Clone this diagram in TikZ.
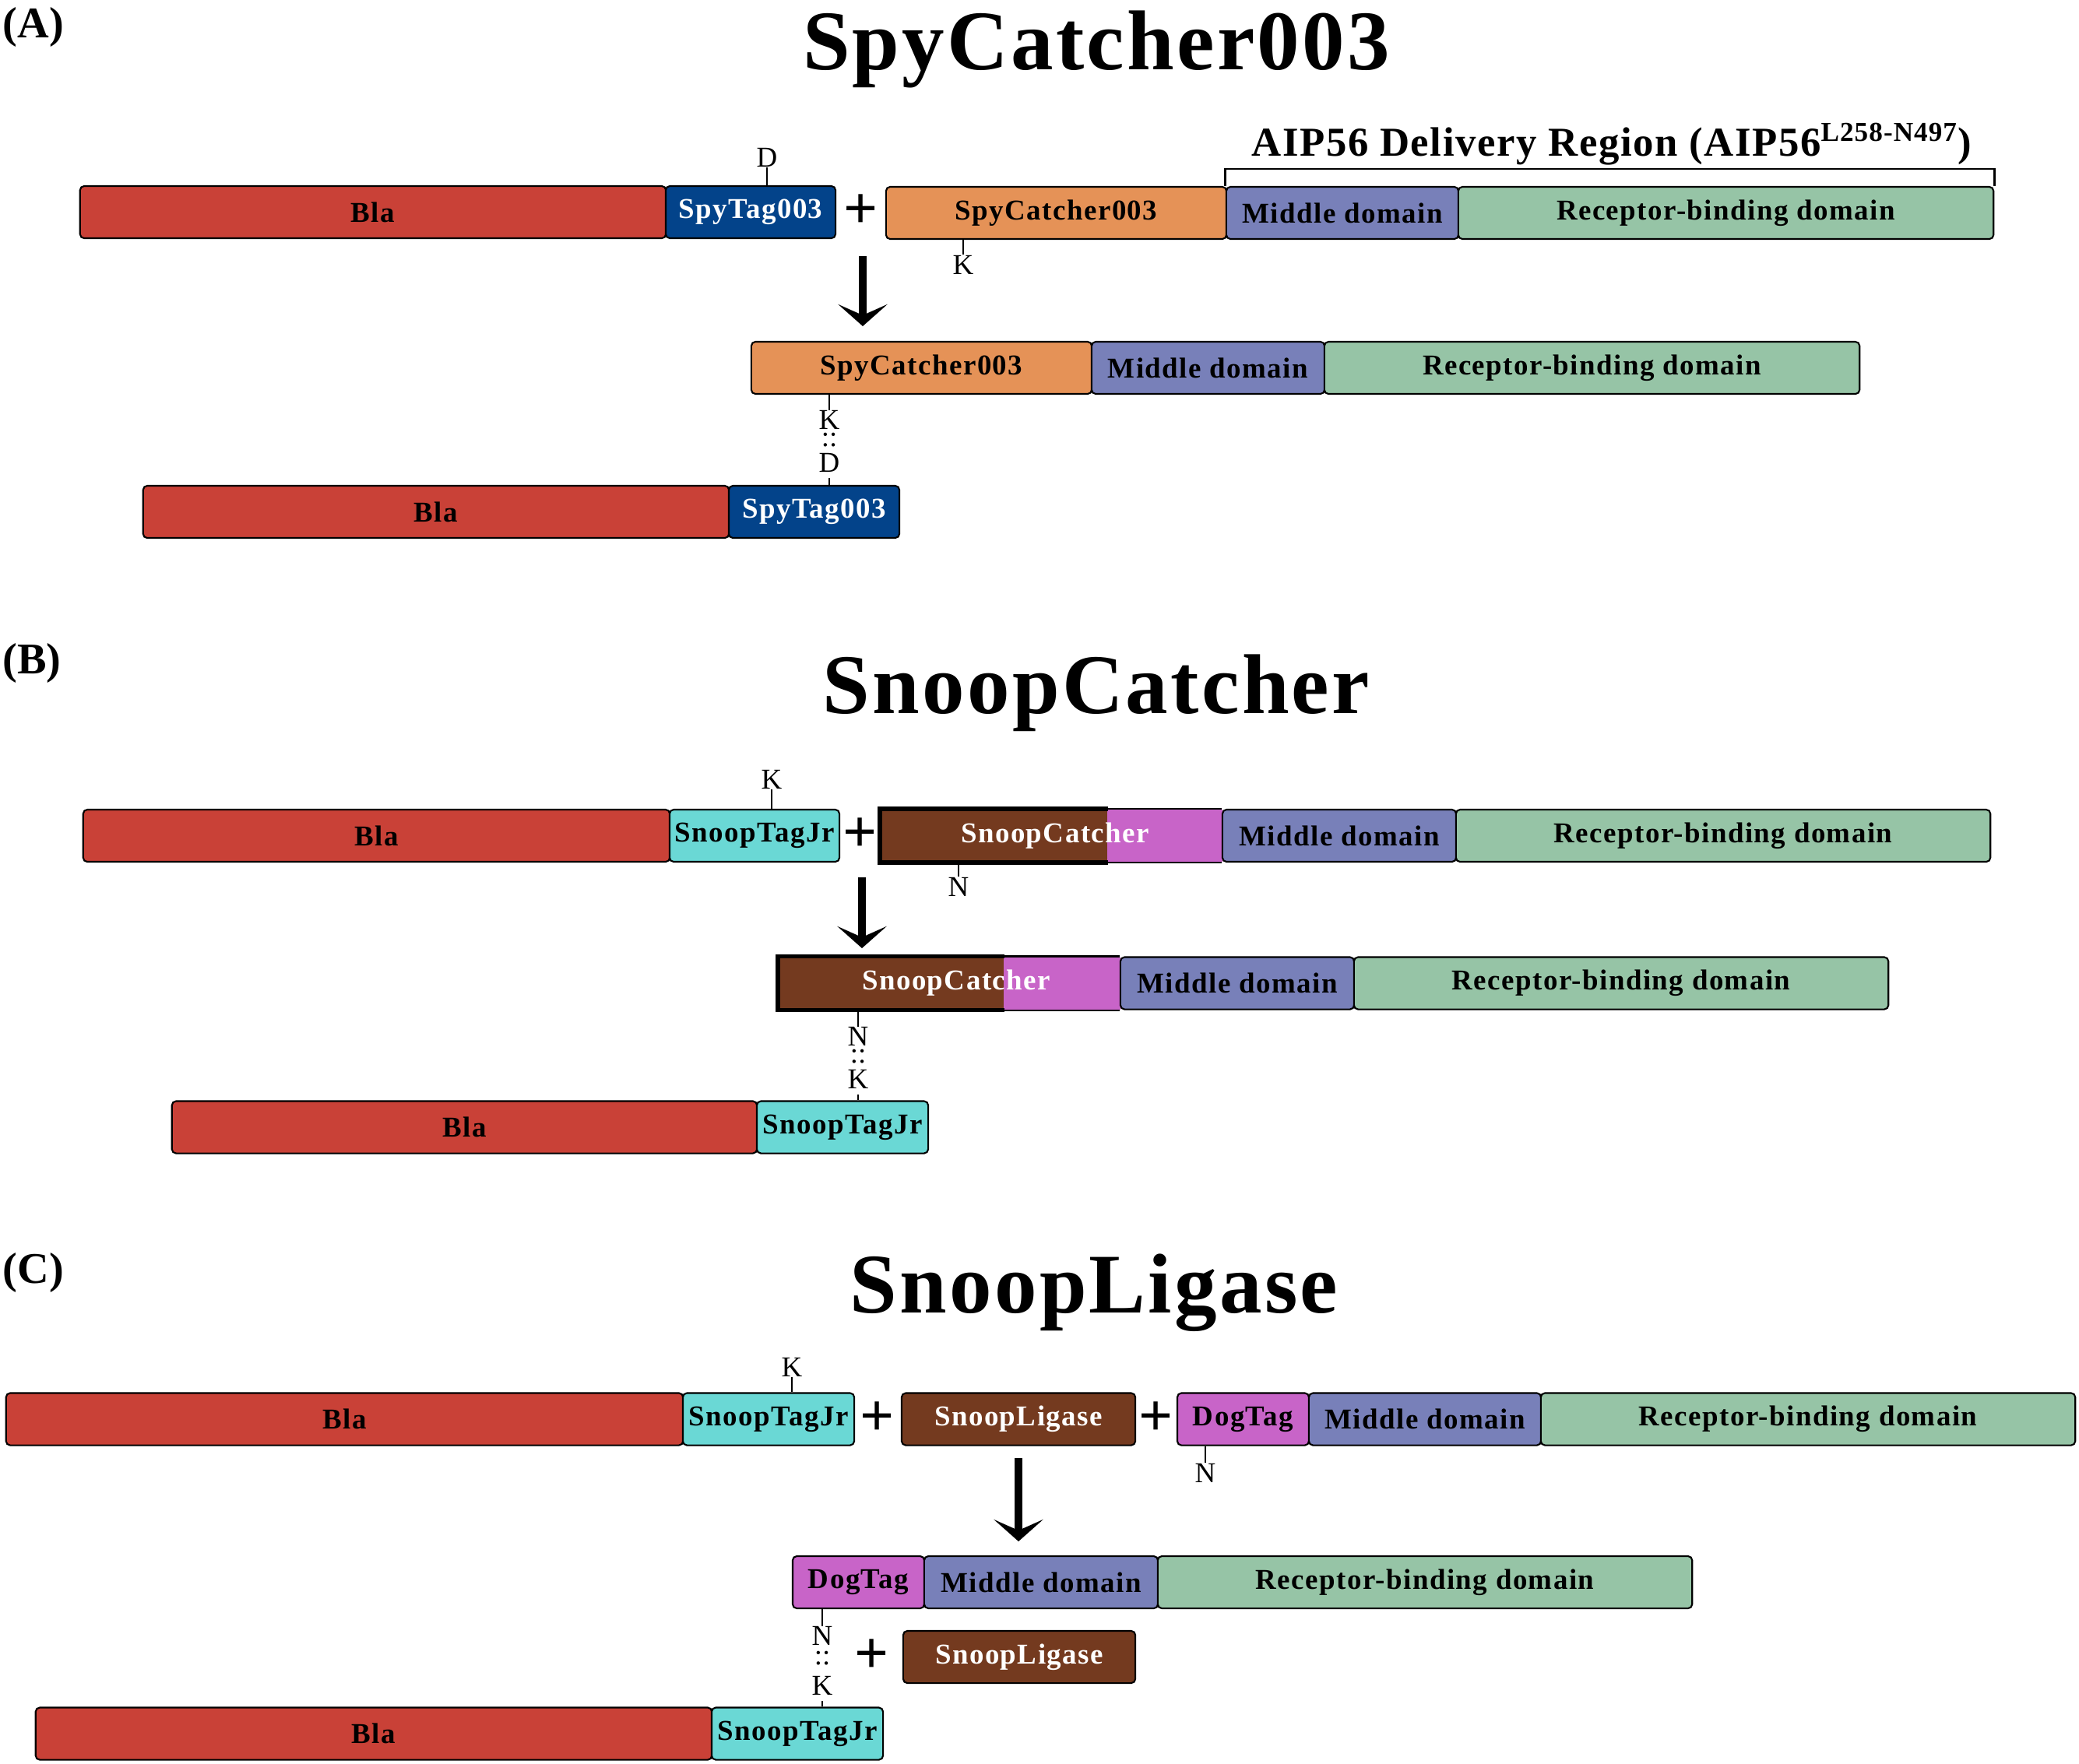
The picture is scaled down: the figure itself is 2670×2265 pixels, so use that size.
\documentclass[tikz,border=0pt]{standalone}
\usepackage{fontspec}
\setmainfont{Liberation Serif}
\usepackage{xcolor}
\usetikzlibrary{arrows.meta}

\definecolor{BlaRed}{HTML}{C94137}
\definecolor{SpyBlue}{HTML}{03438A}
\definecolor{CatcherOrange}{HTML}{E59257}
\definecolor{MiddleBlue}{HTML}{7880B9}
\definecolor{ReceptorGreen}{HTML}{96C4A6}
\definecolor{TagCyan}{HTML}{6AD8D5}
\definecolor{SnoopBrown}{HTML}{743A1F}
\definecolor{DogPink}{HTML}{C864C8}

\begin{document}
\begin{tikzpicture}[x=0.01cm, y=-0.01cm,
    seg/.style={draw, line width=0.6pt, rounded corners=1.5pt, minimum height=0.67cm, inner sep=0pt, font=\fontsize{10.5}{12}\selectfont\bfseries\addfontfeature{LetterSpace=4}},
    residue/.style={inner sep=0pt, font=\fontsize{10.5}{12}\selectfont},
    linker/.style={anchor=north, inner sep=0pt, align=center, font=\fontsize{10.5}{6}\selectfont},
    plus/.style={inner sep=0pt, font=\fontsize{22}{22}\selectfont\bfseries},
    heading/.style={anchor=base, inner sep=0pt, font=\fontsize{31}{33}\selectfont\bfseries\addfontfeature{LetterSpace=3}},
    panel/.style={anchor=base west, inner sep=0pt, font=\fontsize{16}{17}\selectfont\bfseries},
    region/.style={inner sep=0pt, font=\fontsize{15}{16}\selectfont\bfseries\addfontfeature{LetterSpace=3}},
    tick/.style={line width=0.6pt},
    bracket/.style={line width=0.8pt},
    react/.style={line width=3pt, -{Stealth[length=8pt, width=18pt, inset=4pt]}},
    catcher/.style={line width=1.6pt}]
  \useasboundingbox (0,0) rectangle (2670,2265);

  % ---------------- (A) SpyCatcher003
  \node[panel] (lab-a) at (3,48) {(A)};
  \node[heading] (title-a) at (1408,89) {SpyCatcher003};

  \node[seg, fill=BlaRed, minimum width=7.52cm] (bla-a1) at (479,272.5) {Bla};
  \node[seg, fill=SpyBlue, text=white, minimum width=2.18cm] (spytag-a1) at (964,272.5) {SpyTag003};
  \node[plus] (plus-a1) at (1106,272) {+};
  \node[seg, fill=CatcherOrange, minimum width=4.37cm] (spycatcher-a1) at (1356.5,273.5) {SpyCatcher003};
  \node[seg, fill=MiddleBlue, minimum width=2.98cm] (middle-a1) at (1724,273.5) {Middle domain};
  \node[seg, fill=ReceptorGreen, minimum width=6.87cm] (rbd-a1) at (2216.5,273.5) {Receptor-binding domain};

  \node[residue] (d-a1) at (985,202) {D};
  \draw[tick] (d-a1.south) -- (d-a1.south |- spytag-a1.north);
  \node[residue] (k-a1) at (1237,340) {K};
  \draw[tick] (spycatcher-a1.south -| k-a1) -- (k-a1.north);

  \coordinate (bracket-a) at (1578,217);
  \draw[bracket] (middle-a1.north west) -- (middle-a1.north west |- bracket-a) -| (rbd-a1.north east);
  \node[region] (aip56) at (2070,185) {AIP56 Delivery Region (AIP56\textsuperscript{\fontsize{10}{10}\selectfont L258-N497})};

  \coordinate (arrow-a-start) at (1108,329);
  \coordinate (arrow-a-end) at (1108,419);
  \draw[react] (arrow-a-start) -- (arrow-a-end);

  \node[seg, fill=CatcherOrange, minimum width=4.37cm] (spycatcher-a2) at (1183.5,472.5) {SpyCatcher003};
  \node[seg, fill=MiddleBlue, minimum width=2.99cm] (middle-a2) at (1551.5,472.5) {Middle domain};
  \node[seg, fill=ReceptorGreen, minimum width=6.87cm] (rbd-a2) at (2044.5,472.5) {Receptor-binding domain};

  \node[linker] (bond-a2) at (1065,527) {K\\::\\[1.5pt]D};
  \draw[tick] (spycatcher-a2.south -| bond-a2) -- (bond-a2.north);

  \node[seg, fill=BlaRed, minimum width=7.52cm] (bla-a3) at (560,657.5) {Bla};
  \node[seg, fill=SpyBlue, text=white, minimum width=2.19cm] (spytag-a3) at (1045.5,657.5) {SpyTag003};
  \draw[tick] ([yshift=-2pt]bond-a2.south) -- (bond-a2.south |- spytag-a3.north);

  % ---------------- (B) SnoopCatcher
  \node[panel] (lab-b) at (3,865) {(B)};
  \node[heading] (title-b) at (1408,916) {SnoopCatcher};

  \node[seg, fill=BlaRed, minimum width=7.53cm] (bla-b1) at (483.5,1073.5) {Bla};
  \node[seg, fill=TagCyan, minimum width=2.18cm] (snooptag-b1) at (969,1073.5) {SnoopTagJr};
  \node[residue] (k-b1) at (991,1001) {K};
  \draw[tick] (k-b1.south) -- (k-b1.south |- snooptag-b1.north);
  \node[plus] (plus-b1) at (1105,1073) {+};

  \node[seg, draw=none, rounded corners=0pt, fill=DogPink, minimum width=1.48cm] (pink-b1) at (1496,1073.5) {};
  \node[seg, draw=none, rounded corners=0pt, fill=SnoopBrown, minimum width=2.91cm] (catcher-b1) at (1276.5,1073.5) {};
  \draw[catcher] (catcher-b1.north east) -- (catcher-b1.north west) -- (catcher-b1.south west) -- (catcher-b1.south east);
  \node[seg, draw=none, fill=none, text=white] (snoopcatcher-b1) at (1355,1073.5) {SnoopCatcher};
  \node[seg, fill=MiddleBlue, minimum width=3.00cm] (middle-b1) at (1720,1073.5) {Middle domain};
  \node[seg, fill=ReceptorGreen, minimum width=6.86cm] (rbd-b1) at (2213,1073.5) {Receptor-binding domain};
  \draw[tick] (pink-b1.north west) -- (middle-b1.north west);
  \draw[tick] (pink-b1.south west) -- (middle-b1.south west);

  \node[residue] (n-b1) at (1231,1139) {N};
  \draw[tick] (catcher-b1.south -| n-b1) -- (n-b1.north);

  \coordinate (arrow-b-start) at (1107,1127);
  \coordinate (arrow-b-end) at (1107,1218);
  \draw[react] (arrow-b-start) -- (arrow-b-end);

  \node[seg, draw=none, rounded corners=0pt, fill=DogPink, minimum width=1.50cm] (pink-b2) at (1364,1263) {};
  \node[seg, draw=none, rounded corners=0pt, fill=SnoopBrown, minimum width=2.89cm] (catcher-b2) at (1144.5,1263) {};
  \draw[catcher] (catcher-b2.north east) -- (catcher-b2.north west) -- (catcher-b2.south west) -- (catcher-b2.south east);
  \node[seg, draw=none, fill=none, text=white] (snoopcatcher-b2) at (1228,1263) {SnoopCatcher};
  \node[seg, fill=MiddleBlue, minimum width=3.00cm] (middle-b2) at (1589,1263) {Middle domain};
  \node[seg, fill=ReceptorGreen, minimum width=6.86cm] (rbd-b2) at (2082,1263) {Receptor-binding domain};
  \draw[tick] (pink-b2.north west) -- (middle-b2.north west);
  \draw[tick] (pink-b2.south west) -- (middle-b2.south west);

  \node[linker] (bond-b2) at (1102,1319) {N\\::\\[1.5pt]K};
  \draw[tick] (catcher-b2.south -| bond-b2) -- (bond-b2.north);

  \node[seg, fill=BlaRed, minimum width=7.51cm] (bla-b3) at (596.5,1448) {Bla};
  \node[seg, fill=TagCyan, minimum width=2.20cm] (snooptag-b3) at (1082,1448) {SnoopTagJr};
  \draw[tick] ([yshift=-2pt]bond-b2.south) -- (bond-b2.south |- snooptag-b3.north);

  % ---------------- (C) SnoopLigase
  \node[panel] (lab-c) at (3,1648) {(C)};
  \node[heading] (title-c) at (1405,1686) {SnoopLigase};

  \node[seg, fill=BlaRed, minimum width=8.69cm] (bla-c1) at (442.5,1823) {Bla};
  \node[seg, fill=TagCyan, minimum width=2.20cm] (snooptag-c1) at (987,1823) {SnoopTagJr};
  \node[residue] (k-c1) at (1017,1756) {K};
  \draw[tick] (k-c1.south) -- (k-c1.south |- snooptag-c1.north);
  \node[plus] (plus-c1) at (1127,1823) {+};
  \node[seg, fill=SnoopBrown, text=white, minimum width=3.00cm] (ligase-c1) at (1308,1823) {SnoopLigase};
  \node[plus] (plus-c2) at (1485,1823) {+};
  \node[seg, fill=DogPink, minimum width=1.69cm] (dogtag-c1) at (1596.5,1823) {DogTag};
  \node[seg, fill=MiddleBlue, minimum width=2.98cm] (middle-c1) at (1830,1823) {Middle domain};
  \node[seg, fill=ReceptorGreen, minimum width=6.86cm] (rbd-c1) at (2322,1823) {Receptor-binding domain};
  \node[residue] (n-c1) at (1548,1892) {N};
  \draw[tick] (dogtag-c1.south -| n-c1) -- (n-c1.north);

  \coordinate (arrow-c-start) at (1308,1873);
  \coordinate (arrow-c-end) at (1308,1980);
  \draw[react] (arrow-c-start) -- (arrow-c-end);

  \node[seg, fill=DogPink, minimum width=1.69cm] (dogtag-c2) at (1102.5,2032.5) {DogTag};
  \node[seg, fill=MiddleBlue, minimum width=3.00cm] (middle-c2) at (1337,2032.5) {Middle domain};
  \node[seg, fill=ReceptorGreen, minimum width=6.86cm] (rbd-c2) at (1830,2032.5) {Receptor-binding domain};

  \node[linker] (bond-c2) at (1056,2089) {N\\[1pt]::\\[3pt]K};
  \draw[tick] (dogtag-c2.south -| bond-c2) -- (bond-c2.north);
  \node[plus] (plus-c3) at (1120,2128) {+};
  \node[seg, fill=SnoopBrown, text=white, minimum width=2.98cm] (ligase-c2) at (1309,2128.5) {SnoopLigase};

  \node[seg, fill=BlaRed, minimum width=8.68cm] (bla-c3) at (480,2227) {Bla};
  \node[seg, fill=TagCyan, minimum width=2.20cm] (snooptag-c3) at (1024,2227) {SnoopTagJr};
  \draw[tick] ([yshift=-2pt]bond-c2.south) -- (bond-c2.south |- snooptag-c3.north);
\end{tikzpicture}
\end{document}
